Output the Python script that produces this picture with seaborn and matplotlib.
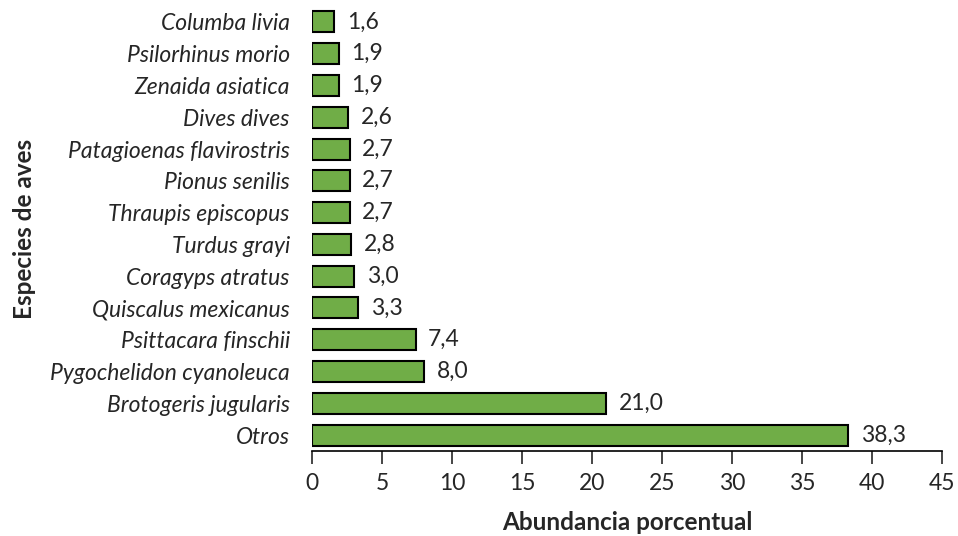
import matplotlib
matplotlib.use("Agg")
import matplotlib.pyplot as plt
import seaborn as sns
import pandas as pd

# data
species = ["Columba livia", "Psilorhinus morio", "Zenaida asiatica", "Dives dives",
           "Patagioenas flavirostris", "Pionus senilis", "Thraupis episcopus",
           "Turdus grayi", "Coragyps atratus", "Quiscalus mexicanus",
           "Psittacara finschii", "Pygochelidon cyanoleuca", "Brotogeris jugularis", "Otros"]
abundance = [1.6, 1.9, 1.9, 2.6, 2.7, 2.7, 2.7, 2.8, 3.0, 3.3, 7.4, 8.0, 21.0, 38.3]
xticks = [0, 5, 10, 15, 20, 25, 30, 35, 40, 45]

df = pd.DataFrame({"especie": species, "abundancia": abundance})

sns.set_style("white")
plt.rcParams["font.family"] = ["Lato", "DejaVu Sans"]

fig = plt.figure(figsize=(9.58, 5.36), dpi=100)
ax = fig.add_axes([0.3257, 0.1586, 0.6576, 0.8302])

sns.barplot(data=df, x="abundancia", y="especie", orient="h", color="#70AD47",
            edgecolor="black", linewidth=1.5, width=0.66, saturation=1, ax=ax)

labels = [f"{v:.1f}".replace(".", ",") for v in abundance]
ax.bar_label(ax.containers[0], labels=labels, padding=9, fontsize=16.5)

ax.set_xlim(0, 45)
ax.set_xticks(xticks)
ax.tick_params(axis="x", direction="out", length=9, width=1.2, labelsize=16.5, pad=7, bottom=True)
ax.tick_params(axis="y", length=0, labelsize=16.5, pad=16)
for t in ax.get_yticklabels():
    t.set_style("italic")

for s in ["top", "right", "left"]:
    ax.spines[s].set_visible(False)
ax.spines["bottom"].set_linewidth(1.2)
ax.spines["bottom"].set_color("black")

ax.set_xlabel("Abundancia porcentual", fontsize=17.5, fontweight="bold", labelpad=12)
ax.set_ylabel("Especies de aves", fontsize=17.5, fontweight="bold", labelpad=10)

fig.savefig("out.png", dpi=100)
